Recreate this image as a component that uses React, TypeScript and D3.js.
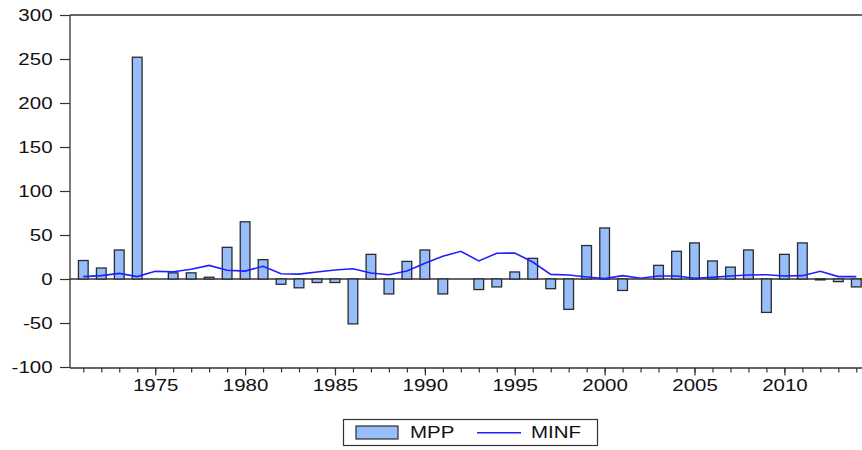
import React, { useEffect, useRef } from 'react'
import * as d3 from 'd3'

const years = [
  1971, 1972, 1973, 1974, 1975, 1976, 1977, 1978, 1979, 1980,
  1981, 1982, 1983, 1984, 1985, 1986, 1987, 1988, 1989, 1990,
  1991, 1992, 1993, 1994, 1995, 1996, 1997, 1998, 1999, 2000,
  2001, 2002, 2003, 2004, 2005, 2006, 2007, 2008, 2009, 2010,
  2011, 2012, 2013, 2014,
]

const mpp = [
  21, 12.5, 33, 252, 0, 7, 7, 2, 36, 65,
  22, -6, -10, -4, -4, -51, 28, -17, 20, 33,
  -17, 0, -12, -9, 8, 23.5, -11, -34.5, 38, 58,
  -13, 0, 15.5, 31.5, 41, 20.5, 13.5, 33, -38, 28,
  41, -1, -3, -9,
]

const minf = [
  2.7, 3.8, 6.4, 2.7, 8.7, 8.3, 11, 15.5, 10, 9,
  14.4, 6, 5.5, 8, 10.2, 11.7, 6.8, 4.9, 9, 17.8,
  25.8, 31.5, 20.5, 29.2, 29.5, 19.3, 5.3, 4.5, 2.3, 0.4,
  3.8, 0.8, 3.4, 3.4, 0.8, 1.9, 3.4, 4.5, 4.9, 3.4,
  3.8, 8.7, 2.7, 2.7,
]

const yTicks = [-100, -50, 0, 50, 100, 150, 200, 250, 300]
const xLabels = [1975, 1980, 1985, 1990, 1995, 2000, 2005, 2010]

const FONT = '"Liberation Sans", Arial, sans-serif'
const STRETCH = 1.28
const TEXT = '#111'
const AXIS = '#333'

function App() {
  const ref = useRef<SVGSVGElement | null>(null)

  useEffect(() => {
    document.body.style.margin = '0'
    const svg = d3.select(ref.current)
    svg.selectAll('*').remove()

    const left = 70
    const top = 15
    const bottom = 368
    const right = 880

    const x = d3.scaleLinear().domain([1971, 2014]).range([83.3, 856.3])
    const y = d3.scaleLinear().domain([-100, 300]).range([367, 15])
    const bw = 9.7

    // frame: top and left
    svg.append('line').attr('x1', left).attr('x2', right).attr('y1', top).attr('y2', top)
      .attr('stroke', AXIS).attr('stroke-width', 1.3)

    // zero line
    svg.append('line').attr('x1', left).attr('x2', right).attr('y1', y(0)).attr('y2', y(0))
      .attr('stroke', AXIS).attr('stroke-width', 1.3)

    // bars
    const data = years.map((yr, i) => ({ yr, v: mpp[i], m: minf[i] }))
    svg.append('g').selectAll('rect')
      .data(data.filter((d) => d.v !== 0))
      .join('rect')
      .attr('x', (d) => x(d.yr) - bw / 2)
      .attr('width', bw)
      .attr('y', (d) => y(Math.max(0, d.v)))
      .attr('height', (d) => Math.abs(y(d.v) - y(0)))
      .attr('fill', '#98bdfb')
      .attr('stroke', '#2b2b2b')
      .attr('stroke-width', 1.3)

    // line
    const line = d3.line<{ yr: number; m: number }>()
      .x((d) => x(d.yr))
      .y((d) => y(d.m))
    svg.append('path').datum(data).attr('fill', 'none').attr('stroke', '#1f1fff')
      .attr('stroke-width', 1.6).attr('d', line)

    // y axis
    const yAxis = svg.append('g').attr('transform', `translate(${left},0)`)
      .call(d3.axisLeft(y).tickValues(yTicks).tickSize(10).tickSizeOuter(0).tickFormat((d) => String(d)))
    yAxis.select('.domain').attr('stroke', AXIS).attr('stroke-width', 1.3)
      .attr('d', `M0,${top}V${bottom}`)
    yAxis.selectAll('.tick line').attr('stroke', AXIS).attr('stroke-width', 1.2)
    yAxis.selectAll('.tick text')
      .attr('x', -17.5 / STRETCH)
      .attr('dy', '0.36em')
      .attr('transform', `scale(${STRETCH},1)`)
      .attr('font-family', FONT).attr('font-size', 16).attr('fill', TEXT)

    // x axis: minor ticks every year
    const xMinor = svg.append('g').attr('transform', `translate(0,${bottom})`)
      .call(d3.axisBottom(x).tickValues(years).tickSize(4.5).tickSizeOuter(0).tickFormat(() => ''))
    xMinor.select('.domain').attr('stroke', AXIS).attr('stroke-width', 1.3)
      .attr('d', `M${left},0H${right}`)
    xMinor.selectAll('.tick line').attr('stroke', AXIS).attr('stroke-width', 1.2)

    // x axis: major ticks with labels
    const xMajor = svg.append('g').attr('transform', `translate(0,${bottom})`)
      .call(d3.axisBottom(x).tickValues(xLabels).tickSize(7.5).tickFormat((d) => String(d)))
    xMajor.select('.domain').remove()
    xMajor.selectAll('.tick line').attr('stroke', AXIS).attr('stroke-width', 1.2)
    xMajor.selectAll('.tick text')
      .attr('y', 23.5).attr('dy', null)
      .attr('transform', `scale(${STRETCH},1)`)
      .attr('font-family', FONT).attr('font-size', 16).attr('fill', TEXT)

    // legend
    const lg = svg.append('g')
    lg.append('rect').attr('x', 343.5).attr('y', 419.5).attr('width', 254).attr('height', 26)
      .attr('fill', 'white').attr('stroke', '#333').attr('stroke-width', 1.2)
    lg.append('rect').attr('x', 356).attr('y', 426).attr('width', 42).attr('height', 13)
      .attr('fill', '#98bdfb').attr('stroke', '#2b2b2b').attr('stroke-width', 1.2)
    lg.append('text').attr('transform', `translate(410,437.5) scale(${STRETCH},1)`)
      .attr('font-family', FONT).attr('font-size', 16).attr('fill', TEXT).text('MPP')
    lg.append('line').attr('x1', 477).attr('x2', 521).attr('y1', 432.7).attr('y2', 432.7)
      .attr('stroke', '#1f1fff').attr('stroke-width', 1.6)
    lg.append('text').attr('transform', `translate(531,437.5) scale(${STRETCH},1)`)
      .attr('font-family', FONT).attr('font-size', 16).attr('fill', TEXT).text('MINF')
  }, [])

  return <svg ref={ref} width={862} height={450} style={{ display: 'block' }} />
}

export default App
